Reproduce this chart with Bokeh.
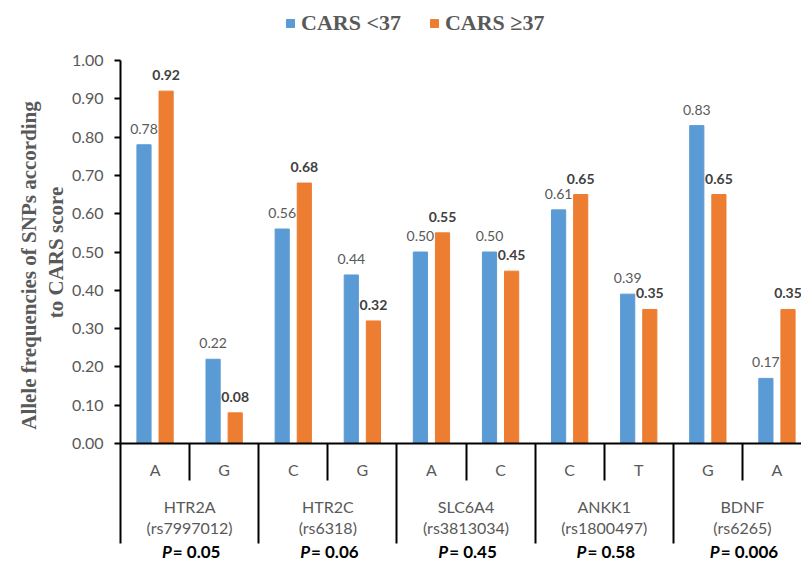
import math
from bokeh.plotting import figure
from bokeh.models import (Range1d, FixedTicker, NumeralTickFormatter, Label,
                          Legend, LegendItem)
from bokeh.core.properties import value
from bokeh.embed import file_html
from bokeh.resources import INLINE

# ---- data ----
genes = ["HTR2A", "HTR2C", "SLC6A4", "ANKK1", "BDNF"]
snps = ["(rs7997012)", "(rs6318)", "(rs3813034)", "(rs1800497)", "(rs6265)"]
p_values = ["0.05", "0.06", "0.45", "0.58", "0.006"]
alleles = ["A", "G", "C", "G", "A", "C", "C", "T", "G", "A"]
cars_low = [0.78, 0.22, 0.56, 0.44, 0.50, 0.50, 0.61, 0.39, 0.83, 0.17]
cars_high = [0.92, 0.08, 0.68, 0.32, 0.55, 0.45, 0.65, 0.35, 0.65, 0.35]
y_ticks = [0.0, 0.1, 0.2, 0.3, 0.4, 0.5, 0.6, 0.7, 0.8, 0.9, 1.0]
series_names = ["CARS <37", "CARS \u226537"]
y_title = ["Allele frequencies of SNPs according", "to CARS score"]

BLUE = "#5B9BD5"
ORANGE = "#ED7D31"
GRAY = "#595959"
SANS = "Lato"
SERIF = "Liberation Serif"

W, H = 801, 564
LEFT = 120              # pixel column of value x = 0
Y0_PX, Y1_PX = 443, 60  # pixel rows of value 0 and 1
CAT_PX = 69.1           # width of one allele category (px)
BASE_FIX = 6            # text baseline correction (px)

n = len(alleles)
centers = [i + 0.5 for i in range(n)]
off = 0.16
bw = 0.205
x_low = [c - off for c in centers]
x_high = [c + off for c in centers]

ppu = Y0_PX - Y1_PX
y_min = -(H - Y0_PX) / ppu
y_max = 1 + Y1_PX / ppu
x_min = -LEFT / CAT_PX
x_max = (W - LEFT) / CAT_PX

p = figure(width=W, height=H, x_range=Range1d(x_min, x_max), y_range=Range1d(y_min, y_max),
           output_backend="svg", toolbar_location=None,
           min_border_left=0, min_border_right=0, min_border_top=0,
           min_border_bottom=0)
p.outline_line_color = None
p.grid.visible = False
p.background_fill_color = "white"
p.border_fill_color = "white"

rb = p.vbar(x=x_low, top=cars_low, width=bw, color=BLUE)
ro = p.vbar(x=x_high, top=cars_high, width=bw, color=ORANGE)

# data labels
p.text(x=x_low, y=cars_low, text=[f"{v:.2f}" for v in cars_low],
       text_align="center", text_baseline="alphabetic", y_offset=-10 - BASE_FIX,
       text_font=value(SANS), text_font_size="14px", text_color=GRAY)
p.text(x=x_high, y=cars_high, text=[f"{v:.2f}" for v in cars_high],
       text_align="center", text_baseline="alphabetic", y_offset=-10 - BASE_FIX,
       text_font=value(SANS), text_font_style="bold", text_font_size="14px",
       text_color="#404040")

# y axis (drawn at x = 0)
yax = p.yaxis[0]
yax.fixed_location = 0
yax.ticker = FixedTicker(ticks=y_ticks)
yax.bounds = (0, 1)
yax.formatter = NumeralTickFormatter(format="0.00")
yax.axis_line_width = 2
yax.axis_line_color = "black"
yax.major_tick_out = 6
yax.major_tick_in = 0
yax.major_tick_line_width = 2
yax.major_tick_line_color = "black"
yax.minor_tick_line_color = None
yax.major_label_standoff = 11
yax.major_label_text_font = SANS
yax.major_label_text_font_size = "16px"
yax.major_label_text_color = GRAY

# x axis at value 0: separators as ticks
gene_bounds = [2 * g for g in range(len(genes) + 1)]
allele_bounds = [2 * g + 1 for g in range(len(genes))]
xax = p.xaxis[0]
xax.fixed_location = 0
xax.bounds = (0, n)
xax.ticker = FixedTicker(ticks=gene_bounds, minor_ticks=allele_bounds)
xax.major_label_overrides = {b: "" for b in gene_bounds}
xax.axis_line_width = 2
xax.axis_line_color = "black"
xax.major_tick_in = 0
xax.major_tick_out = 100
xax.major_tick_line_width = 2
xax.major_tick_line_color = "black"
xax.minor_tick_in = 0
xax.minor_tick_out = 37
xax.minor_tick_line_width = 2
xax.minor_tick_line_color = "black"
xax.major_label_standoff = 0


def sy(px):
    # screen y (measured up from the frame bottom) for a pixel row baseline
    return H - px + BASE_FIX


# allele labels
for c, a in zip(centers, alleles):
    p.add_layout(Label(x=c, y=sy(475), x_units="data", y_units="screen", text=a,
                       text_align="center", text_baseline="alphabetic",
                       text_font=SANS, text_font_size="16px", text_color=GRAY))


def est_w(s, size):
    w = 0.0
    for ch in s:
        if ch.isdigit() or ch == "=":
            w += 0.58
        elif ch == ".":
            w += 0.22
        elif ch == " ":
            w += 0.2
        else:
            w += 0.6
    return w * size


for g, (name, snp, pv) in enumerate(zip(genes, snps, p_values)):
    gc = 2 * g + 1
    p.add_layout(Label(x=gc, y=sy(512), x_units="data", y_units="screen", text=name,
                       text_align="center", text_baseline="alphabetic",
                       text_font=SANS, text_font_size="16px", text_color=GRAY))
    p.add_layout(Label(x=gc, y=sy(533), x_units="data", y_units="screen", text=snp,
                       text_align="center", text_baseline="alphabetic",
                       text_font=SANS, text_font_size="16px", text_color=GRAY))
    rest = "= " + pv
    rw = est_w(rest, 17)
    pw = 11
    anchor = (pw - rw) / 2
    p.add_layout(Label(x=gc, y=sy(557), x_units="data", y_units="screen", text="P",
                       x_offset=anchor, text_align="right", text_baseline="alphabetic",
                       text_font=SANS, text_font_style="bold italic",
                       text_font_size="17px", text_color="black"))
    p.add_layout(Label(x=gc, y=sy(557), x_units="data", y_units="screen", text=rest,
                       x_offset=anchor + 1, text_align="left", text_baseline="alphabetic",
                       text_font=SANS, text_font_style="bold",
                       text_font_size="17px", text_color="black"))

# y axis title (two lines, rotated)
for line, bx, cy in zip(y_title, [28, 55], [265, 252]):
    p.add_layout(Label(x=bx, y=H - cy, x_units="screen", y_units="screen",
                       text=line, angle=math.pi / 2,
                       text_align="center", text_baseline="alphabetic",
                       text_font=SERIF, text_font_style="bold", text_font_size="21px",
                       text_color=GRAY))

legend = Legend(items=[LegendItem(label=series_names[0], renderers=[rb]),
                       LegendItem(label=series_names[1], renderers=[ro])],
                orientation="horizontal", location=(285, H - 36),
                glyph_width=10, glyph_height=10, label_standoff=6, spacing=28,
                padding=0, margin=0, border_line_color=None,
                background_fill_alpha=0,
                label_text_font=SERIF, label_text_font_style="bold",
                label_text_font_size="22px", label_text_color=GRAY)
p.add_layout(legend)

open("out.html", "w").write(file_html(p, INLINE))
